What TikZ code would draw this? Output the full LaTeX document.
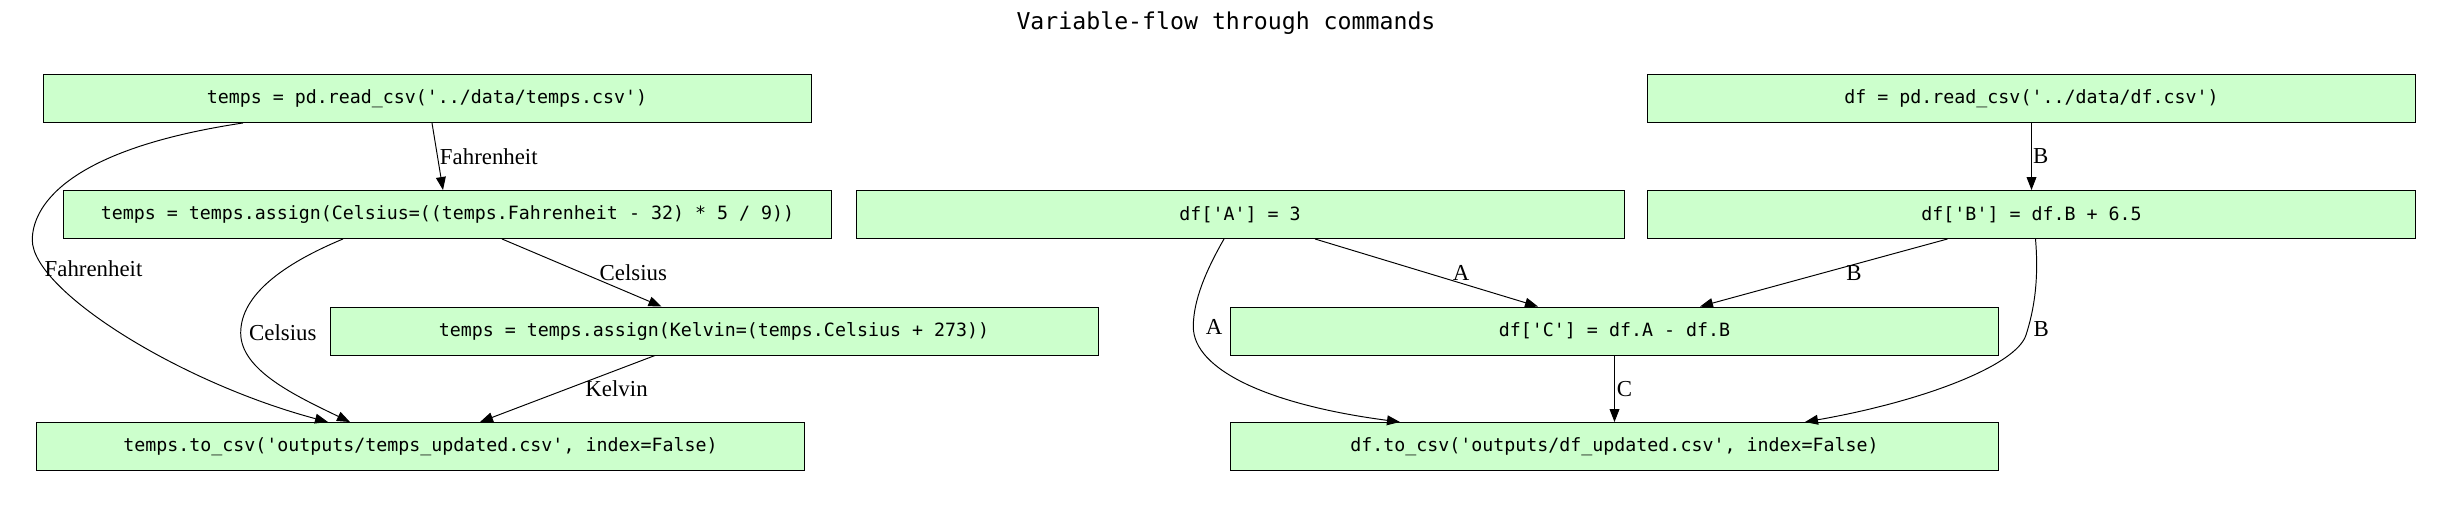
\documentclass[tikz,border=0pt]{standalone}
\usepackage{fontspec}
\setmainfont{Liberation Serif}
\newfontfamily\codefont{DejaVu Sans Mono}
\usetikzlibrary{arrows.meta}
\definecolor{cmdgreen}{HTML}{CCFFCC}

\begin{document}
\begin{tikzpicture}[
        >={Triangle[length=7.4pt,width=5.6pt]},
        line width=0.55pt,
        cmd/.style={draw, fill=cmdgreen, minimum width=15.36cm, minimum height=0.96cm, inner sep=0pt,
            font=\codefont\fontsize{10.4}{12}\selectfont},
        lbl/.style={anchor=west, inner sep=0pt, font=\fontsize{13}{15}\selectfont}
    ]
        \useasboundingbox (0,0) rectangle (49.06,-10.16);
        \draw (24.52, -0.46) node[font=\codefont\fontsize{13.2}{15}\selectfont] (title) {Variable-flow through commands};

        \draw (8.54, -1.97) node[cmd] (t1) {temps = pd.read\_csv('../data/temps.csv')};
        \draw (8.95, -4.29) node[cmd] (t2) {temps = temps.assign(Celsius=((temps.Fahrenheit - 32) * 5 / 9))};
        \draw (14.28, -6.62) node[cmd] (t3) {temps = temps.assign(Kelvin=(temps.Celsius + 273))};
        \draw (8.41, -8.93) node[cmd] (t4) {temps.to\_csv('outputs/temps\_updated.csv', index=False)};

        \draw (40.63, -1.97) node[cmd] (d1) {df = pd.read\_csv('../data/df.csv')};
        \draw (24.80, -4.29) node[cmd] (da) {df['A'] = 3};
        \draw (40.63, -4.29) node[cmd] (db) {df['B'] = df.B + 6.5};
        \draw (32.29, -6.62) node[cmd] (dc) {df['C'] = df.A - df.B};
        \draw (32.29, -8.93) node[cmd] (d4) {df.to\_csv('outputs/df\_updated.csv', index=False)};

        \draw[->] ([xshift=0.1cm]t1.south) -- node[lbl, xshift=0.04cm] (l1) {Fahrenheit} ([xshift=-0.09cm]t2.north);
        \draw[->] ([xshift=-3.68cm]t1.south) .. controls +(-3.66,-0.55) and +(0,0.6) .. (0.646,-4.8)
            .. controls +(0,-1) and +(-3,0.8) .. ([xshift=-1.85cm]t4.north) node[lbl, pos=0.17] (l2) {Fahrenheit};
        \draw[->] ([xshift=1.09cm]t2.south) -- node[lbl, xshift=0.35cm] (l3) {Celsius} ([xshift=-1.05cm]t3.north);
        \draw[->] ([xshift=-2.09cm]t2.south) .. controls +(-1.2,-0.5) and +(0,0.76) .. (4.814,-6.66) node[lbl, xshift=0.16cm] (l4) {Celsius}
            .. controls +(0,-0.74) and +(-1.1,0.53) .. ([xshift=-1.41cm]t4.north);
        \draw[->] ([xshift=-1.18cm]t3.south) -- node[lbl, xshift=0.35cm] (l5) {Kelvin} ([xshift=1.19cm]t4.north);

        \draw[->] (d1) -- node[lbl, xshift=0.02cm] (l6) {B} (db);
        \draw[->] ([xshift=1.5cm]da.south) -- node[lbl, xshift=0.52cm] (l7) {A} ([xshift=-1.53cm]dc.north);
        \draw[->] ([xshift=-1.68cm]db.south) -- node[lbl, xshift=0.44cm] (l8) {B} ([xshift=1.71cm]dc.north);
        \draw[->] ([xshift=-0.32cm]da.south) .. controls +(-0.36,-0.63) and +(0,0.53) .. (23.866,-6.534) node[lbl, xshift=0.24cm] (l9) {A}
            .. controls +(0,-0.87) and +(-2.6,0.34) .. ([xshift=-4.29cm]d4.north);
        \draw[->] ([xshift=0.08cm]db.south) .. controls +(0.07,-0.83) and +(0.16,0.5) .. (40.52,-6.7) node[lbl, xshift=0.14cm, yshift=0.12cm] (l10) {B}
            .. controls +(-0.19,-0.6) and +(2.4,0.42) .. ([xshift=3.81cm]d4.north);
        \draw[->] (dc) -- node[lbl, xshift=0.04cm] (l11) {C} (d4);
    \end{tikzpicture}
\end{document}
